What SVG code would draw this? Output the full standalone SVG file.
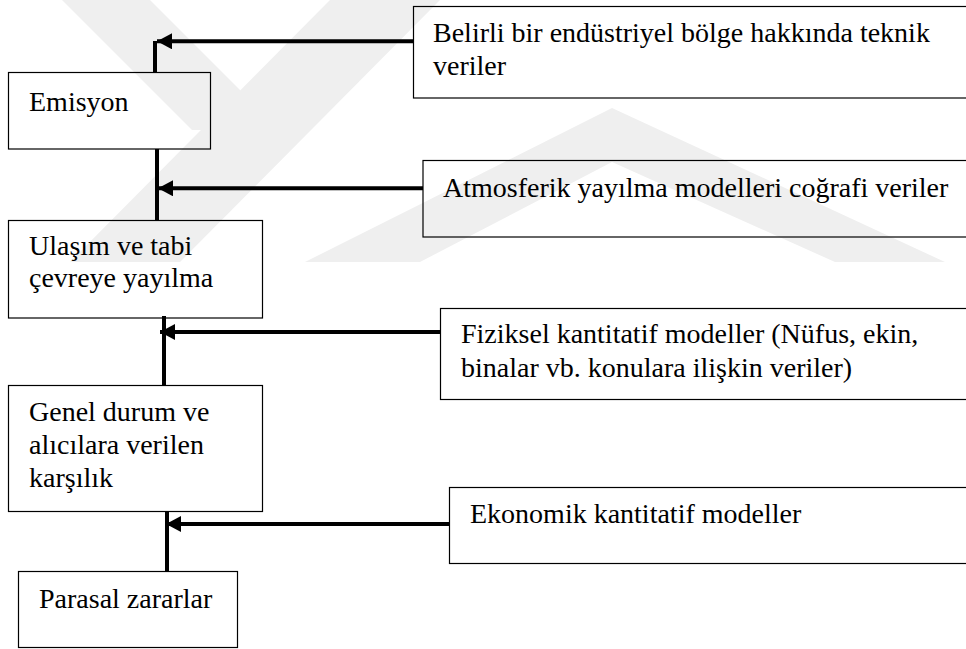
<svg xmlns="http://www.w3.org/2000/svg" width="966" height="649" viewBox="0 0 966 649">
  <defs>
    <style>
      .box { fill: none; stroke: #000; stroke-width: 1.2; }
      .lbl { font-size: 28px; fill: #000; }
      .wire { fill: none; stroke: #000; stroke-width: 4; }
      .wm { fill: #efefef; stroke: none; }
    </style>
    <marker id="ah" markerUnits="userSpaceOnUse" markerWidth="16" markerHeight="17" refX="15" refY="8" orient="auto">
      <path d="M0,0 L15,8 L0,16 z" fill="#000"/>
    </marker>
  </defs>
  <rect width="966" height="649" fill="#fff"/>

  <g id="watermark">
    <polygon class="wm" points="70,262 180,262 440,0 330,0"/>
    <polygon class="wm" points="62,0 150,0 280,130 192,130"/>
    <polygon class="wm" points="612,108 945,262 835,262 612,162 420,262 305,262"/>
  </g>

  <g id="connectors">
    <path class="wire" d="M155,72 V41" stroke-width="3.5"/>
    <line class="wire" x1="413" y1="41.3" x2="157" y2="41.3" stroke-width="2.8" marker-end="url(#ah)"/>
    <path class="wire" d="M157,149 V220"/>
    <line class="wire" x1="423" y1="188.3" x2="158" y2="188.3" marker-end="url(#ah)"/>
    <path class="wire" d="M164,316 V385"/>
    <line class="wire" x1="440" y1="332" x2="160" y2="332" marker-end="url(#ah)"/>
    <path class="wire" d="M167,512 V571"/>
    <line class="wire" x1="449" y1="524" x2="166" y2="524" marker-end="url(#ah)"/>
  </g>

  <g font-family="'Liberation Serif', 'DejaVu Serif', 'Times New Roman', serif">
  <g id="n-emisyon">
    <rect class="box" x="8.5" y="72.5" width="202" height="76.5"/>
    <text class="lbl" x="29" y="111">Emisyon</text>
  </g>
  <g id="n-ulasim">
    <rect class="box" x="8.5" y="220.5" width="254" height="97.5"/>
    <text class="lbl" x="29" y="255">Ulaşım ve tabi</text>
    <text class="lbl" x="29" y="287">çevreye yayılma</text>
  </g>
  <g id="n-genel">
    <rect class="box" x="8.5" y="385.5" width="254" height="126"/>
    <text class="lbl" x="29" y="421">Genel durum ve</text>
    <text class="lbl" x="29" y="453.5">alıcılara verilen</text>
    <text class="lbl" x="29" y="486.5">karşılık</text>
  </g>
  <g id="n-parasal">
    <rect class="box" x="18.5" y="571.5" width="219" height="76"/>
    <text class="lbl" x="39" y="608">Parasal zararlar</text>
  </g>
  <g id="n-belirli">
    <rect class="box" x="413.5" y="6.5" width="560" height="91.5"/>
    <text class="lbl" x="433" y="42">Belirli bir endüstriyel bölge hakkında teknik</text>
    <text class="lbl" x="433" y="75">veriler</text>
  </g>
  <g id="n-atmosferik">
    <rect class="box" x="423" y="160.5" width="560" height="76.5"/>
    <text class="lbl" x="443" y="197">Atmosferik yayılma modelleri coğrafi veriler</text>
  </g>
  <g id="n-fiziksel">
    <rect class="box" x="440.5" y="308.5" width="540" height="91"/>
    <text class="lbl" x="461" y="343">Fiziksel kantitatif modeller (Nüfus, ekin,</text>
    <text class="lbl" x="461" y="377">binalar vb. konulara ilişkin veriler)</text>
  </g>
  <g id="n-ekonomik">
    <rect class="box" x="449.5" y="487.5" width="530" height="76"/>
    <text class="lbl" x="470" y="523">Ekonomik kantitatif modeller</text>
  </g>
  </g>
</svg>
